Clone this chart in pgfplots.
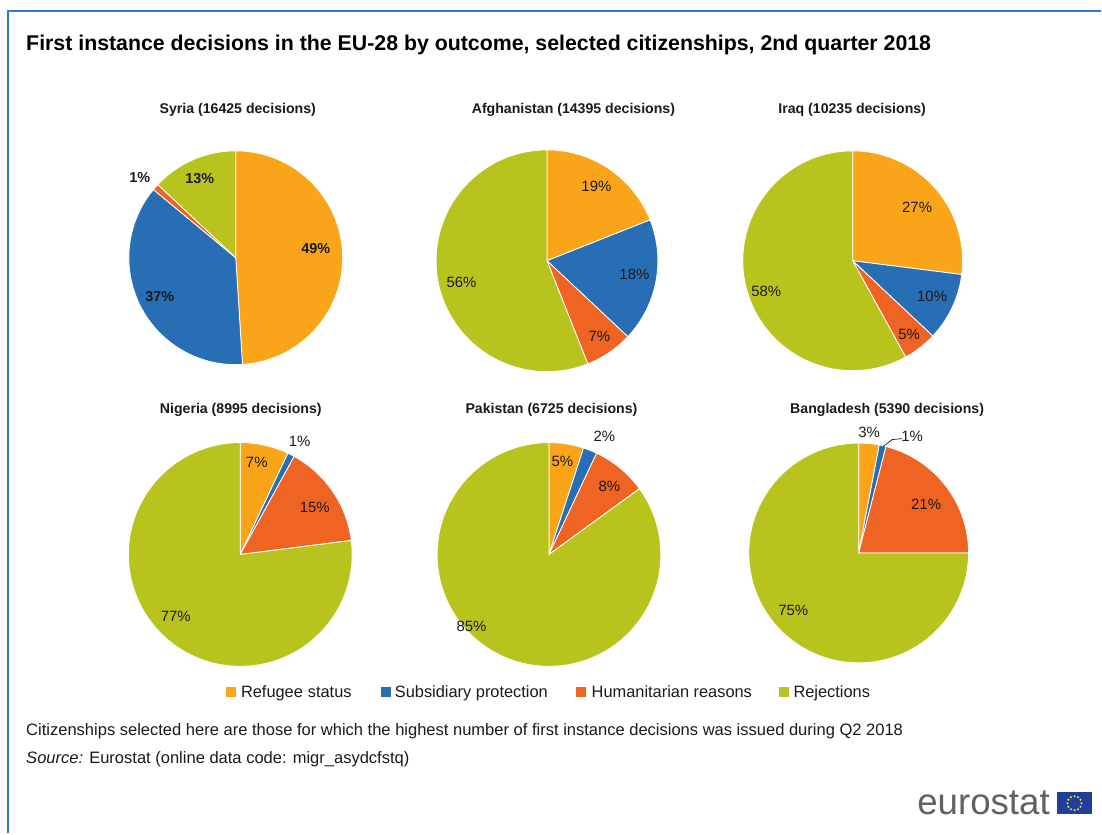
\documentclass[border=0pt]{standalone}
\usepackage{pgfplots}
\pgfplotsset{compat=1.18}
\usepackage{fontspec}
\setmainfont{Liberation Sans}
\definecolor{cRef}{HTML}{FAA519}
\definecolor{cSub}{HTML}{286EB4}
\definecolor{cHum}{HTML}{F06423}
\definecolor{cRej}{HTML}{B9C31E}
\definecolor{frame}{HTML}{2E7BC8}
\definecolor{txt}{HTML}{1A1A1A}
\definecolor{eublue}{HTML}{1F3F99}
\definecolor{eustar}{HTML}{E8E020}

% one pie slice: cx, cy, r (pixels), start %, end %, colour
\newcommand{\pieslice}[6]{%
  \pgfmathsetmacro\ta{90-3.6*(#5)}%
  \pgfmathsetmacro\tb{90-3.6*(#4)}%
  \edef\tmp{\noexpand\addplot[fill=#6, draw=white, line width=0.6pt, domain=\ta:\tb, samples=90, variable=\noexpand\t]
    ({#1+#3*cos(\noexpand\t)},{#2-#3*sin(\noexpand\t)}) -- (axis cs:#1,#2) -- cycle;}%
  \tmp}
% a full pie: cx, cy, r, refugee, subsidiary, humanitarian, rejections (per cent)
\newcommand{\pie}[7]{%
  \pieslice{#1}{#2}{#3}{0}{#4}{cRef}%
  \pieslice{#1}{#2}{#3}{#4}{#4+#5}{cSub}%
  \pieslice{#1}{#2}{#3}{#4+#5}{#4+#5+#6}{cHum}%
  \pieslice{#1}{#2}{#3}{#4+#5+#6}{100}{cRej}}

\begin{document}
\begin{tikzpicture}
\begin{axis}[
  at={(0,0)}, anchor=south west,
  width=826.5pt, height=625.5pt, scale only axis,
  xmin=0, xmax=1102, ymin=0, ymax=834, y dir=reverse,
  hide axis, clip=false]
\fill[white] (axis cs:0,0) rectangle (axis cs:1102,834);
\draw[frame, line width=1.6pt] (axis cs:8,834) -- (axis cs:8,11) -- (axis cs:1102,11);

\node[anchor=west, inner sep=0pt, font=\bfseries\fontsize{16}{19}\selectfont, text=black] at (axis cs:26,45)
  {First instance decisions in the EU-28 by outcome, selected citizenships, 2nd quarter 2018};

% pies (per cent of first instance decisions)
\pie{236}{258}{107}{49}{37}{1}{13}
\pie{547.5}{261}{111}{19}{18}{7}{56}
\pie{853.5}{261}{110}{27}{10}{5}{58}
\pie{240.5}{555}{112}{7}{1}{15}{77}
\pie{549.5}{555}{112}{5}{2}{8}{85}
\pie{859.5}{553.5}{110}{3}{1}{21}{75}

% pie titles
\begin{scope}[every node/.style={font=\bfseries\fontsize{10.6}{13}\selectfont, text=txt}]
\node at (axis cs:238,110) {Syria (16425 decisions)};
\node at (axis cs:574,110) {Afghanistan (14395 decisions)};
\node at (axis cs:853,110) {Iraq (10235 decisions)};
\node at (axis cs:241,410) {Nigeria (8995 decisions)};
\node at (axis cs:552,410) {Pakistan (6725 decisions)};
\node at (axis cs:888,410) {Bangladesh (5390 decisions)};
\end{scope}

% Syria labels (bold)
\begin{scope}[every node/.style={font=\bfseries\fontsize{10.8}{13}\selectfont, text=txt}]
\node at (axis cs:316,249) {49\%};
\node at (axis cs:160,297) {37\%};
\node at (axis cs:140,178) {1\%};
\node at (axis cs:200,179) {13\%};
\end{scope}

% other labels
\begin{scope}[every node/.style={font=\fontsize{11.2}{13}\selectfont, text=txt}]
\node at (axis cs:597,187) {19\%};
\node at (axis cs:635,275) {18\%};
\node at (axis cs:600,337) {7\%};
\node at (axis cs:462,283) {56\%};
\node at (axis cs:918,208) {27\%};
\node at (axis cs:933,297) {10\%};
\node at (axis cs:910,335) {5\%};
\node at (axis cs:767,292) {58\%};
\node at (axis cs:257,463) {7\%};
\node at (axis cs:300,442) {1\%};
\node at (axis cs:315,508) {15\%};
\node at (axis cs:176,617) {77\%};
\node at (axis cs:563,462) {5\%};
\node at (axis cs:605,437) {2\%};
\node at (axis cs:610,487) {8\%};
\node at (axis cs:472,627) {85\%};
\node at (axis cs:870,433) {3\%};
\node at (axis cs:913,437) {1\%};
\node at (axis cs:927,505) {21\%};
\node at (axis cs:794,611) {75\%};
\end{scope}
\draw[txt, line width=0.5pt] (axis cs:884,447) -- (axis cs:893,440) -- (axis cs:903,439);

% legend
\begin{scope}[every node/.style={anchor=base west, font=\fontsize{12.3}{14}\selectfont, text=txt, inner sep=0pt}]
\fill[cRef] (axis cs:226,688) rectangle (axis cs:236,698);
\node at (axis cs:241,698.5) {Refugee\hspace{0.3em}status};
\fill[cSub] (axis cs:381,688) rectangle (axis cs:391,698);
\node at (axis cs:395,698.5) {Subsidiary protection};
\fill[cHum] (axis cs:577,688) rectangle (axis cs:587,698);
\node at (axis cs:592,698.5) {Humanitarian reasons};
\fill[cRej] (axis cs:780,688) rectangle (axis cs:790,698);
\node at (axis cs:794,698.5) {Rejections};
\end{scope}

% notes
\begin{scope}[every node/.style={anchor=base west, font=\fontsize{12.4}{14}\selectfont, text=txt, inner sep=0pt}]
\node at (axis cs:26,736.5) {Citizenships selected here are those for which the highest number of first instance decisions was issued during Q2 2018};
\node at (axis cs:26,764.5) {\textit{Source:} Eurostat (online data code: migr\_asydcfstq)};
\end{scope}

% eurostat logo
\node[anchor=base east, font=\fontsize{27.5}{30}\selectfont, text=black!62, inner sep=0pt] at (axis cs:1051,815) {eurostat};
\fill[eublue] (axis cs:1058,793) rectangle (axis cs:1093,815);
\pgfplotsinvokeforeach{0,30,...,330}{
  \fill[eustar] (axis cs:{1075.5+7*cos(#1)},{804-7*sin(#1)}) circle[radius=0.9pt];
}
\end{axis}
\end{tikzpicture}
\end{document}
